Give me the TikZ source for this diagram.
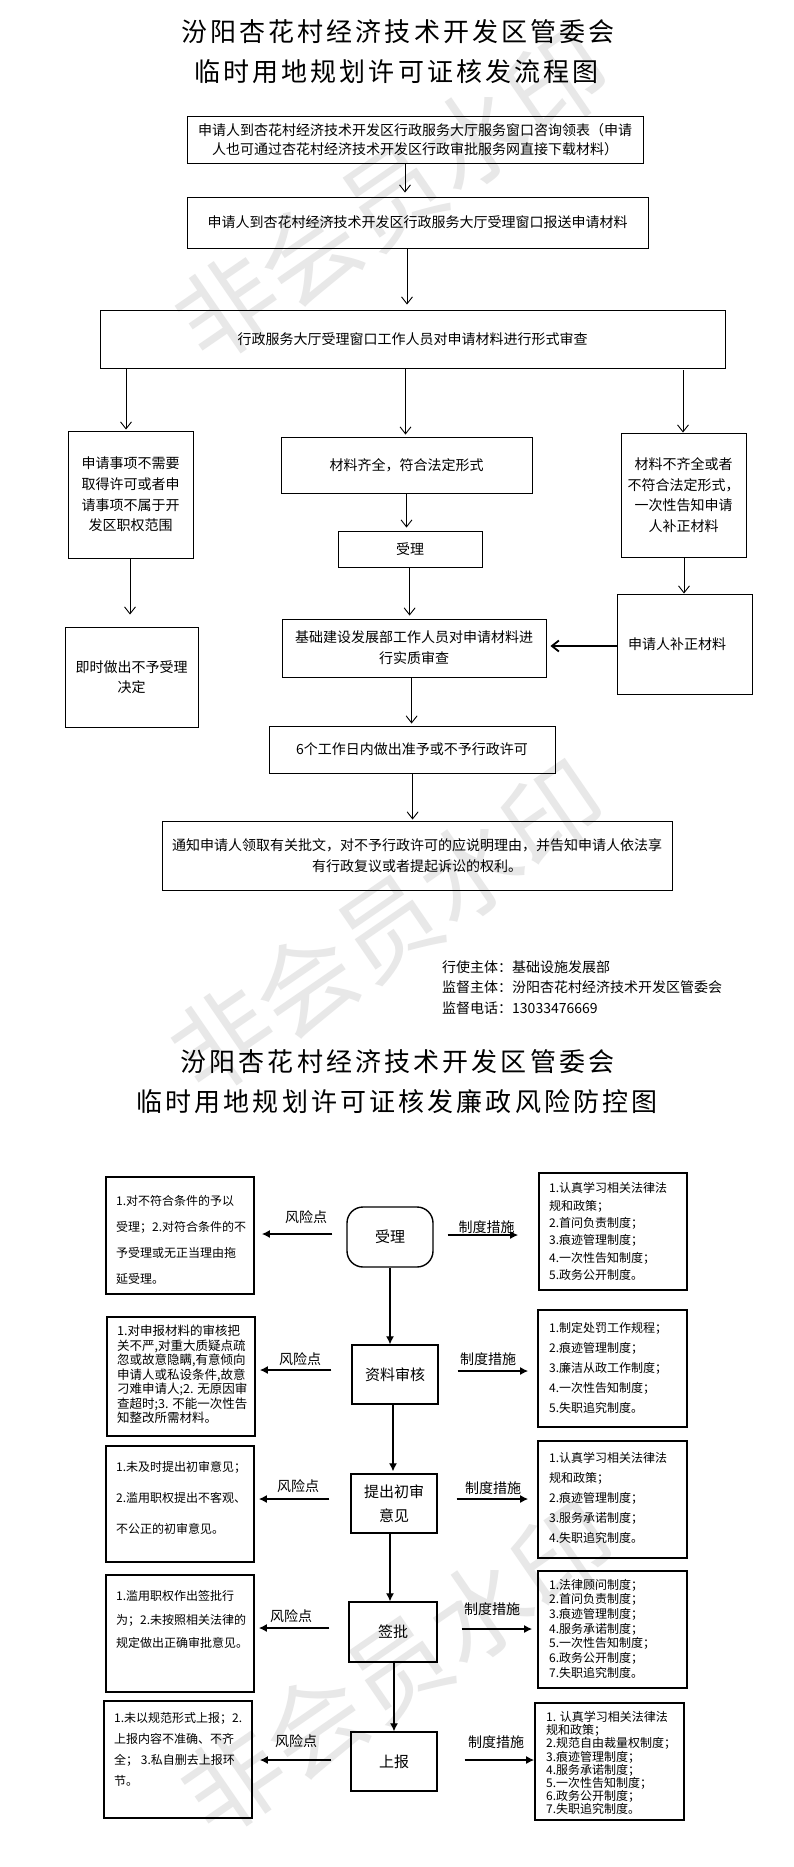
\documentclass[tikz,border=0pt]{standalone}
\usepackage{fontspec}
\setmainfont{Noto Sans CJK SC}
\newfontfamily\ttlfont[LetterSpace=12]{Noto Sans CJK SC}
\usetikzlibrary{arrows.meta}
\begin{document}
\begin{tikzpicture}[x=1pt,y=-1pt,
  tbox/.style={draw, line width=0.9pt, inner sep=0pt, align=center, font=\fontsize{14}{20.7}\selectfont},
  tarr/.style={-{Straight Barb[length=7pt,width=11pt]}, line width=0.9pt},
  hvarr/.style={-{Straight Barb[length=7pt,width=11pt]}, line width=1.8pt},
  lbox/.style={draw, line width=1.8pt, inner sep=0pt, minimum width=148pt, minimum height=117pt},
  cbox/.style={draw, line width=1.4pt, inner sep=0pt, align=center, font=\fontsize{15}{24}\selectfont, minimum width=86pt, minimum height=59pt},
  barr/.style={-{Latex[length=8pt,width=8pt]}, line width=1.2pt},
  btxt/.style={inner sep=0pt, anchor=west, align=left},
  lab/.style={inner sep=0pt, font=\fontsize{14}{14}\selectfont},
  ttl/.style={inner sep=0pt, font=\ttlfont\fontsize{26}{26}\selectfont},
  wm/.style={text=black!9, font=\fontsize{100}{100}\selectfont, rotate=34.5, inner sep=0pt}]
\fill[white] (0,0) rectangle (793,1867);
\useasboundingbox (0,0) rectangle (793,1867);

% watermarks
\node[wm] (wm1) at (392,195) {非会员水印};
\node[wm] (wm2) at (388,927) {非会员水印};
\node[wm] (wm3) at (398,1668) {非会员水印};

% ---------- top flow chart ----------
\node[ttl] (t1) at (398,31.5) {汾阳杏花村经济技术开发区管委会};
\node[ttl] (t2) at (396.5,71.5) {临时用地规划许可证核发流程图};

\node[tbox, font=\fontsize{14}{19}\selectfont, minimum width=456pt, minimum height=47pt] (b1) at (415,139.5)
  {申请人到杏花村经济技术开发区行政服务大厅服务窗口咨询领表（申请\\人也可通过杏花村经济技术开发区行政审批服务网直接下载材料）};
\node[tbox, minimum width=461pt, minimum height=51pt] (b2) at (417.5,222.5)
  {申请人到杏花村经济技术开发区行政服务大厅受理窗口报送申请材料};
\node[tbox, minimum width=625pt, minimum height=58pt] (b3) at (412.5,339)
  {行政服务大厅受理窗口工作人员对申请材料进行形式审查};
\node[tbox, minimum width=125pt, minimum height=127pt] (bA) at (130.5,494.5)
  {申请事项不需要\\取得许可或者申\\请事项不属于开\\发区职权范围};
\node[tbox, font=\fontsize{14}{20}\selectfont, minimum width=133pt, minimum height=100pt] (bA2) at (131.5,677)
  {即时做出不予受理\\决定};
\node[tbox, minimum width=251pt, minimum height=56pt] (bB) at (406.5,465)
  {材料齐全，符合法定形式};
\node[tbox, minimum width=144pt, minimum height=36pt] (bC) at (410,549) {受理};
\node[tbox, font=\fontsize{14}{21}\selectfont, minimum width=264pt, minimum height=58pt] (bD) at (414,648)
  {基础建设发展部工作人员对申请材料进\\行实质审查};
\node[tbox, minimum width=286pt, minimum height=47pt] (bE) at (412,749.5)
  {6个工作日内做出准予或不予行政许可};
\node[tbox, font=\fontsize{14}{21}\selectfont, minimum width=510pt, minimum height=69pt] (bF) at (417,855.5)
  {通知申请人领取有关批文，对不予行政许可的应说明理由，并告知申请人依法享\\有行政复议或者提起诉讼的权利。};
\node[tbox, minimum width=125pt, minimum height=124pt] (bG) at (683.5,495)
  {材料不齐全或者\\不符合法定形式，\\一次性告知申请\\人补正材料};
\node[tbox, text width=113pt, align=left, minimum width=135pt, minimum height=100pt] (bH) at (684.5,644)
  {申请人补正材料};

\draw[tarr, shorten >=4pt] ([xshift=-10pt]b1.south) -- ([xshift=-12.5pt]b2.north);
\draw[tarr, shorten >=5pt] ([xshift=-10.5pt]b2.south) -- ([xshift=-5.5pt]b3.north);
\draw[tarr, shorten >=1pt] ([xshift=-286.5pt]b3.south) -- ([xshift=-4.5pt]bA.north);
\draw[tarr, shorten >=12pt] ([xshift=-0.5pt]bA.south) -- ([xshift=-1.5pt]bA2.north);
\draw[tarr, shorten >=2pt] ([xshift=-7pt]b3.south) -- ([xshift=-1pt]bB.north);
\draw[tarr, shorten >=3pt] (bB.south) -- ([xshift=-3.5pt]bC.north);
\draw[tarr, shorten >=3pt] ([xshift=-0.4pt]bC.south) -- ([xshift=-4.4pt]bD.north);
\draw[tarr, shorten >=2pt] ([xshift=-2.4pt]bD.south) -- ([xshift=-0.4pt]bE.north);
\draw[tarr, shorten >=1pt] ([xshift=0.6pt]bE.south) -- ([xshift=-4.4pt]bF.north);
\draw[tarr, shorten <=2pt] ([xshift=270.5pt]b3.south) -- ([xshift=-0.5pt]bG.north);
\draw[tarr] ([xshift=0.5pt]bG.south) -- ([xshift=-0.5pt]bH.north);
\draw[hvarr, shorten >=4pt] ([yshift=-2pt]bH.west) -- ([yshift=-2pt]bH.west -| bD.east);

\node[inner sep=0pt, anchor=west, align=left, font=\fontsize{14}{20.5}\selectfont] (sup) at (442,987.5)
  {行使主体：基础设施发展部\\监督主体：汾阳杏花村经济技术开发区管委会\\监督电话：13033476669};

% ---------- bottom risk chart ----------
\node[ttl] (t3) at (397.5,1062) {汾阳杏花村经济技术开发区管委会};
\node[ttl] (t4) at (397,1102) {临时用地规划许可证核发廉政风险防控图};

\node[cbox, rounded corners=16pt, minimum height=60pt] (c1) at (390,1237) {受理};
\node[cbox] (c2) at (395,1374.5) {资料审核};
\node[cbox] (c3) at (394,1503.5) {提出初审\\意见};
\node[cbox, minimum width=88pt, minimum height=60pt] (c4) at (393,1632) {签批};
\node[cbox] (c5) at (394,1761.5) {上报};

\node[lbox] (L1) at (180,1235.5) {};
\node[lbox, minimum height=119pt] (L2) at (181,1376.5) {};
\node[lbox, minimum height=116pt] (L3) at (180,1504) {};
\node[lbox] (L4) at (180,1633.5) {};
\node[lbox] (L5) at (178,1759.5) {};

\node[lbox] (R1) at (613,1231.5) {};
\node[lbox, minimum width=149pt] (R2) at (612.5,1368.5) {};
\node[lbox, minimum width=149pt] (R3) at (612.5,1499.5) {};
\node[lbox, minimum width=149pt] (R4) at (612.5,1629.5) {};
\node[lbox, minimum width=149pt] (R5) at (609.5,1761.5) {};

\node[btxt, font=\fontsize{12}{26}\selectfont] (L1t) at (116,1240)
  {1.对不符合条件的予以\\受理；2.对符合条件的不\\予受理或无正当理由拖\\延受理。};
\node[btxt, font=\fontsize{12.5}{14.5}\selectfont] (L2t) at (117,1374.5)
  {1.对申报材料的审核把\\关不严,对重大质疑点疏\\忽或故意隐瞒,有意倾向\\申请人或私设条件,故意\\刁难申请人;2. 无原因审\\查超时;3. 不能一次性告\\知整改所需材料。};
\node[btxt, font=\fontsize{12}{31}\selectfont] (L3t) at (116,1498)
  {1.未及时提出初审意见；\\2.滥用职权提出不客观、\\不公正的初审意见。};
\node[btxt, font=\fontsize{12}{23.5}\selectfont] (L4t) at (116,1619.5)
  {1.滥用职权作出签批行\\为；2.未按照相关法律的\\规定做出正确审批意见。};
\node[btxt, font=\fontsize{12}{21}\selectfont] (L5t) at (114,1749.5)
  {1.未以规范形式上报；2.\\上报内容不准确、不齐\\全； 3.私自删去上报环\\节。};

\node[btxt, font=\fontsize{12}{17.4}\selectfont] (R1t) at (549,1231.5)
  {1.认真学习相关法律法\\规和政策；\\2.首问负责制度；\\3.痕迹管理制度；\\4.一次性告知制度；\\5.政务公开制度。};
\node[btxt, font=\fontsize{12}{20}\selectfont] (R2t) at (549,1368)
  {1.制定处罚工作规程；\\2.痕迹管理制度；\\3.廉洁从政工作制度；\\4.一次性告知制度；\\5.失职追究制度。};
\node[btxt, font=\fontsize{12}{20}\selectfont] (R3t) at (549,1498)
  {1.认真学习相关法律法\\规和政策；\\2.痕迹管理制度；\\3.服务承诺制度；\\4.失职追究制度。};
\node[btxt, font=\fontsize{12}{14.7}\selectfont] (R4t) at (549,1628.5)
  {1.法律顾问制度；\\2.首问负责制度；\\3.痕迹管理制度；\\4.服务承诺制度；\\5.一次性告知制度；\\6.政务公开制度；\\7.失职追究制度。};
\node[btxt, font=\fontsize{12}{13.1}\selectfont] (R5t) at (546,1763)
  {1. 认真学习相关法律法\\规和政策；\\2.规范自由裁量权制度；\\3.痕迹管理制度；\\4.服务承诺制度；\\5.一次性告知制度；\\6.政务公开制度；\\7.失职追究制度。};

% vertical arrows
\draw[barr] (c1.south) -- ([xshift=-5pt]c2.north);
\draw[barr, shorten >=2pt] ([xshift=-2pt]c2.south) -- ([xshift=-1pt]c3.north);
\draw[barr] ([xshift=-4pt]c3.south) -- ([xshift=-3pt]c4.north);
\draw[barr] ([xshift=1pt]c4.south) -- (c5.north);

% horizontal arrows
\draw[barr, shorten <=14pt, shorten >=7pt] ([yshift=3pt]c1.west) -- ([yshift=3pt]c1.west -| L1.east);
\draw[barr, shorten <=14pt, shorten >=20pt] ([yshift=2pt]c1.east) -- ([yshift=2pt]c1.east -| R1.west);
\draw[barr, shorten <=20pt, shorten >=4pt] ([yshift=4.5pt]c2.west) -- ([yshift=4.5pt]c2.west -| L2.east);
\draw[barr, shorten <=19pt, shorten >=9pt] ([yshift=3.5pt]c2.east) -- ([yshift=3.5pt]c2.east -| R2.west);
\draw[barr, shorten <=21pt, shorten >=4pt] ([yshift=4.5pt]c3.west) -- ([yshift=4.5pt]c3.west -| L3.east);
\draw[barr, shorten <=19pt, shorten >=9pt] ([yshift=4.5pt]c3.east) -- ([yshift=4.5pt]c3.east -| R3.west);
\draw[barr, shorten <=19pt, shorten >=4pt] ([yshift=4pt]c4.west) -- ([yshift=4pt]c4.west -| L4.east);
\draw[barr, shorten <=24pt, shorten >=5pt] ([yshift=3pt]c4.east) -- ([yshift=3pt]c4.east -| R4.west);
\draw[barr, shorten <=19pt, shorten >=7pt] ([yshift=1.5pt]c5.west) -- ([yshift=1.5pt]c5.west -| L5.east);
\draw[barr, shorten <=27pt] ([yshift=1.5pt]c5.east) -- ([yshift=1.5pt]c5.east -| R5.west);

% arrow labels
\node[lab] (k1) at (306,1217) {风险点};
\node[lab] (m1) at (486.5,1227) {制度措施};
\node[lab] (k2) at (300,1359) {风险点};
\node[lab] (m2) at (488,1359) {制度措施};
\node[lab] (k3) at (298,1486) {风险点};
\node[lab] (m3) at (493,1488) {制度措施};
\node[lab] (k4) at (291,1616) {风险点};
\node[lab] (m4) at (492,1609) {制度措施};
\node[lab] (k5) at (296,1741) {风险点};
\node[lab] (m5) at (496,1742) {制度措施};
\end{tikzpicture}
\end{document}
